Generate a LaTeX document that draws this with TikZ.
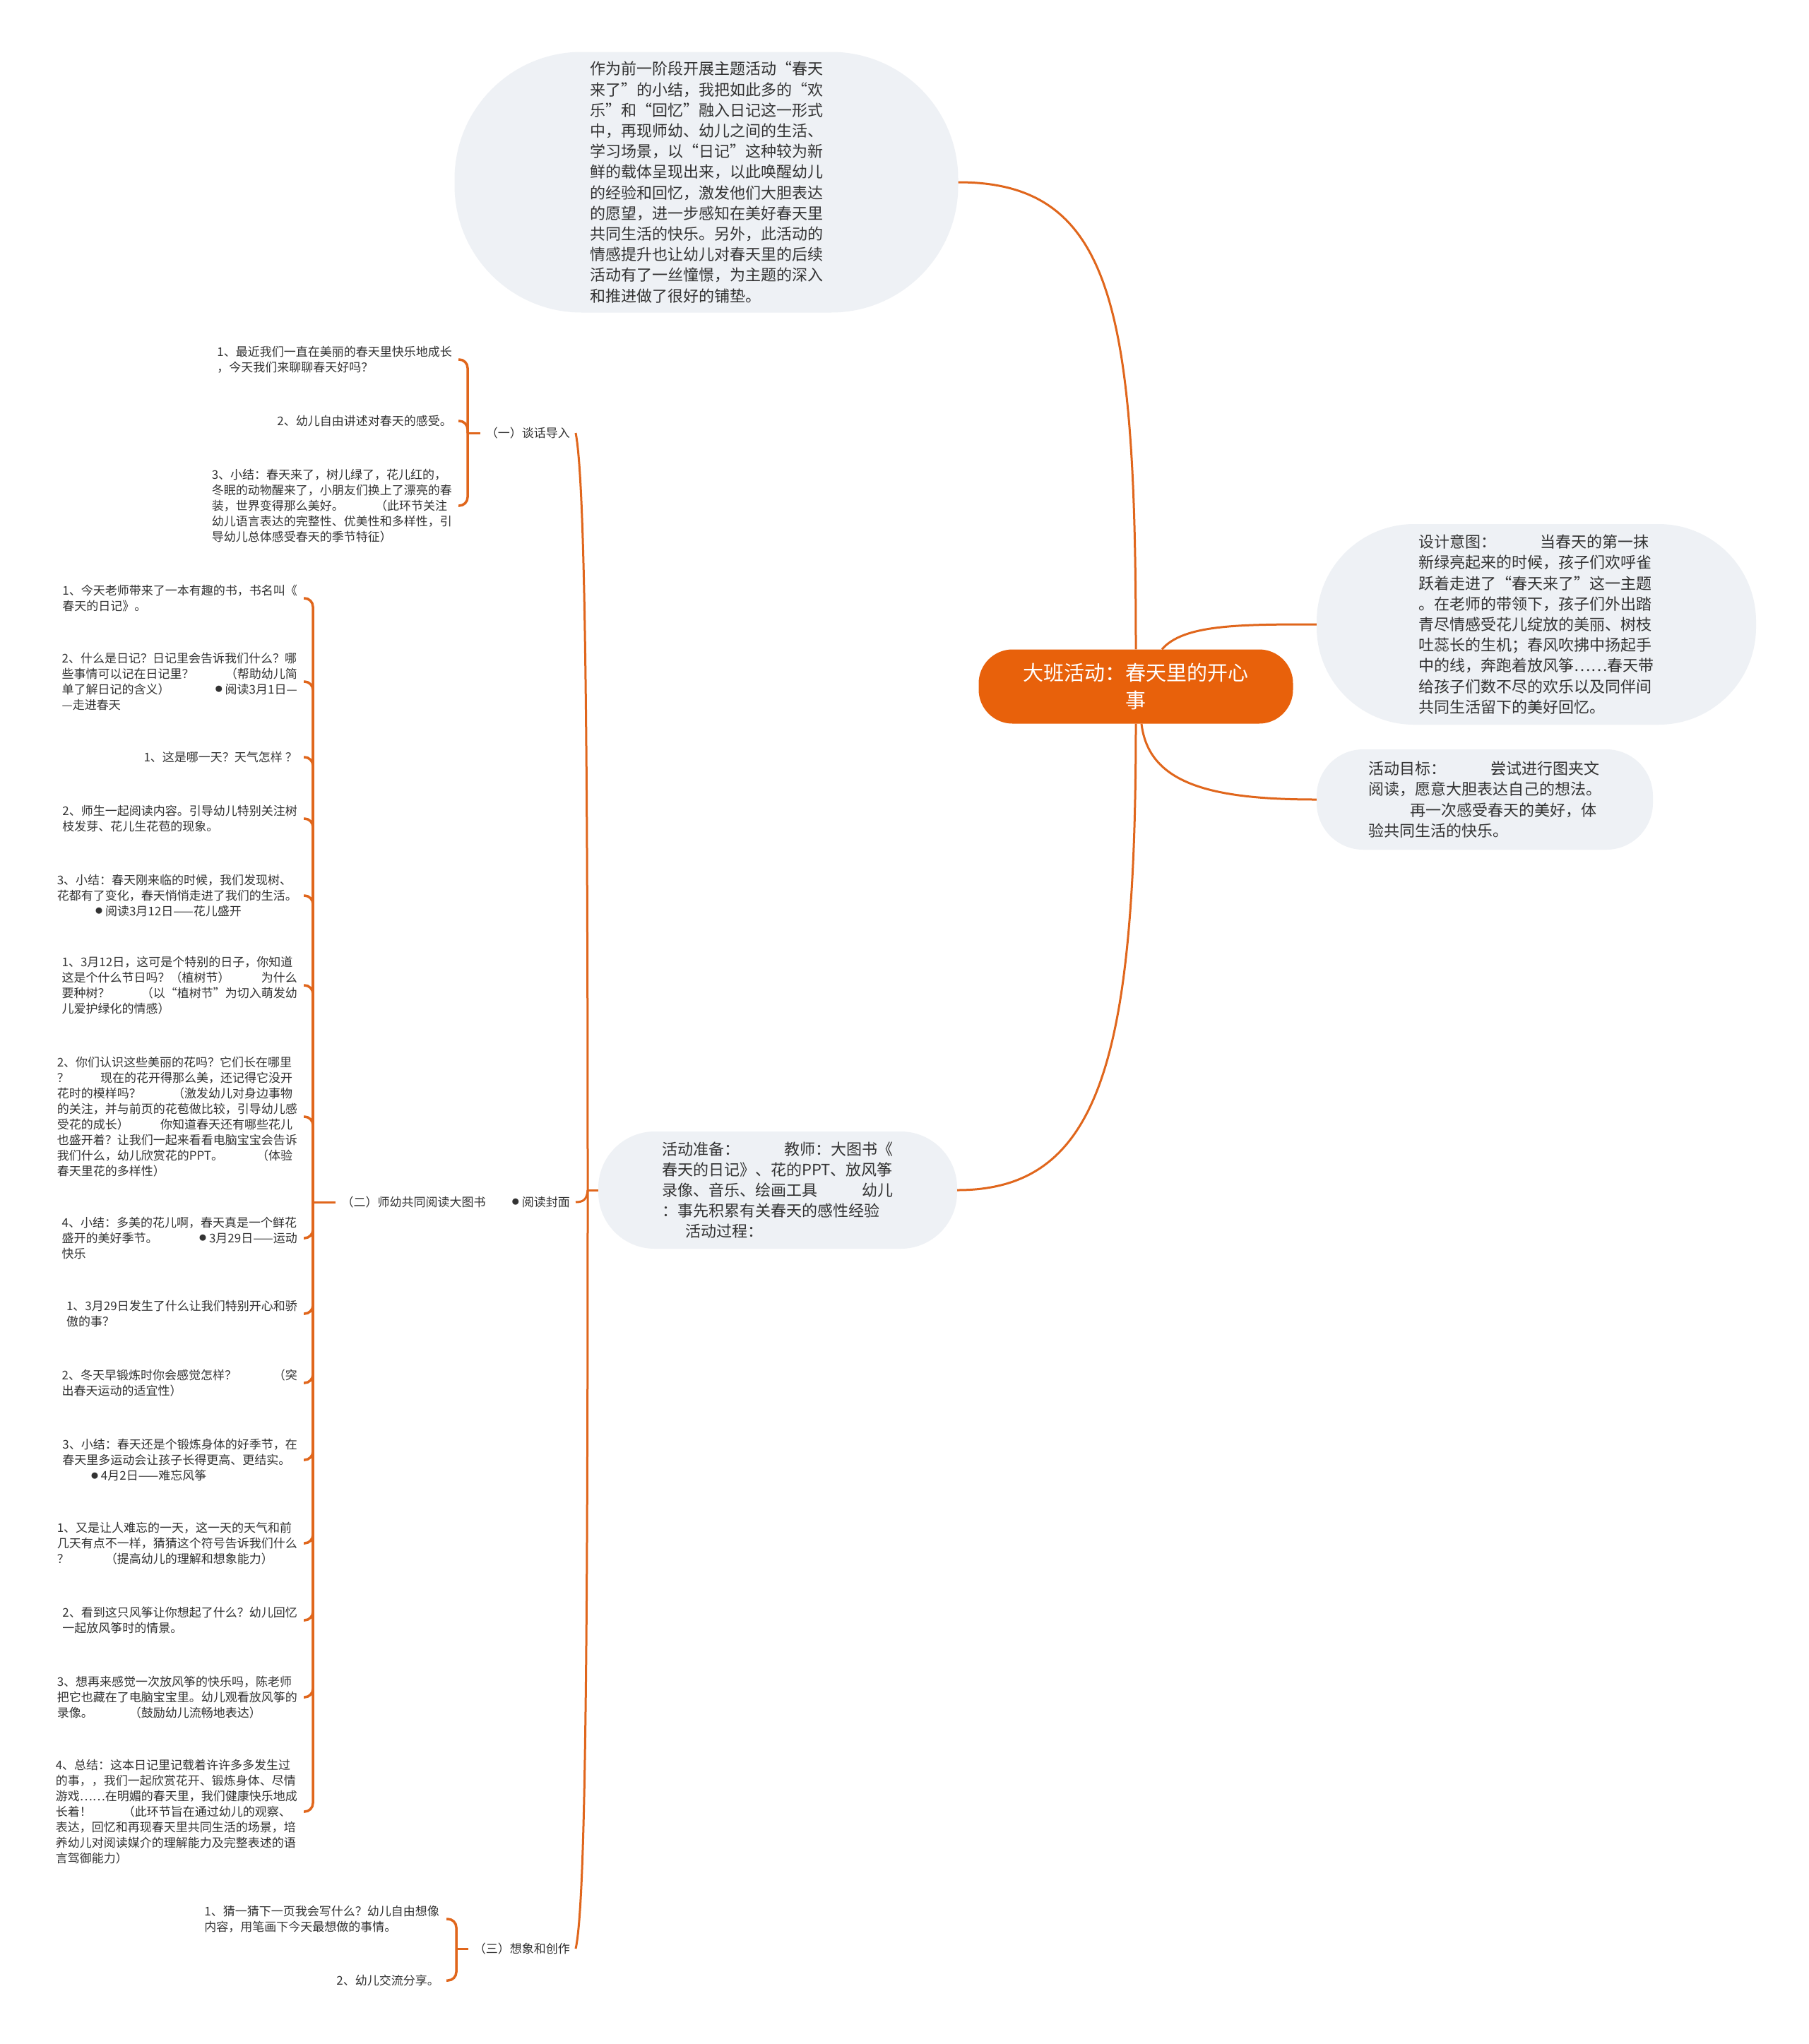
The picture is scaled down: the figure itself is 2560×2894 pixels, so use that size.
\documentclass[tikz,border=0pt]{standalone}
\usepackage{fontspec}
\setmainfont{Noto Sans CJK SC}
\definecolor{ln}{HTML}{E0661C}
\definecolor{rootc}{HTML}{E8610B}
\definecolor{bub}{HTML}{EEF1F5}
\definecolor{tx}{HTML}{333333}
\newcommand\gl[2]{\hbox to 19.6em{#1\hfill #2}}
\newcommand\bul{\raisebox{2.5pt}{\fontsize{10}{10}\selectfont ●}}
\begin{document}
\begin{tikzpicture}[x=1pt,y=-1pt,
  conn/.style={draw=ln, line width=3pt},
  brc/.style={draw=ln, line width=3.5pt, rounded corners=12pt},
  bubble/.style={fill=bub, text=tx, align=left, font=\fontsize{22}{29.2}\selectfont, inner sep=0pt},
  small/.style={text=tx, align=left, font=\fontsize{17}{22}\selectfont, inner sep=0pt, anchor=east},
  lab/.style={text=tx, font=\fontsize{17}{22}\selectfont, inner xsep=8pt, inner ysep=2pt, anchor=east},
]
\useasboundingbox[fill=white] (0,0) rectangle (2560,2894);

% ---------- main nodes ----------
\node[fill=rootc, text=white, rounded corners=48pt, minimum width=445pt, minimum height=105pt,
      align=center, font=\fontsize{29}{39}\selectfont, inner sep=0pt] (root) at (1608,972)
      {大班活动：春天里的开心\\事};

\node[bubble, rounded corners=180pt, minimum width=713pt, minimum height=369pt] (intro) at (1000,258)
{作为前一阶段开展主题活动“春天\\来了”的小结，我把如此多的“欢\\乐”和“回忆”融入日记这一形式\\中，再现师幼、幼儿之间的生活、\\学习场景，以“日记”这种较为新\\鲜的载体呈现出来，以此唤醒幼儿\\的经验和回忆，激发他们大胆表达\\的愿望，进一步感知在美好春天里\\共同生活的快乐。另外，此活动的\\情感提升也让幼儿对春天里的后续\\活动有了一丝憧憬，为主题的深入\\和推进做了很好的铺垫。};

\node[bubble, rounded corners=138pt, minimum width=622pt, minimum height=284pt] (design) at (2175,884)
{设计意图：\hspace{2.8em}当春天的第一抹\\新绿亮起来的时候，孩子们欢呼雀\\跃着走进了“春天来了”这一主题\\。在老师的带领下，孩子们外出踏\\青尽情感受花儿绽放的美丽、树枝\\吐蕊长的生机；春风吹拂中扬起手\\中的线，奔跑着放风筝……春天带\\给孩子们数不尽的欢乐以及同伴间\\共同生活留下的美好回忆。};

\node[bubble, rounded corners=66pt, minimum width=476pt, minimum height=142pt] (goal) at (2102,1132)
{活动目标：\hspace{2.9em}尝试进行图夹文\\阅读，愿意大胆表达自己的想法。\\\hspace*{2.7em}再一次感受春天的美好，体\\验共同生活的快乐。};

\node[bubble, rounded corners=80pt, minimum width=508pt, minimum height=166pt] (prep) at (1101,1685)
{活动准备：\hspace{2.9em}教师：大图书《\\春天的日记》、花的PPT、放风筝\\录像、音乐、绘画工具\hspace{2.9em}幼儿\\：事先积累有关春天的感性经验\\\hspace*{1.5em}活动过程：};

% ---------- root connectors ----------
\draw[conn] (root.north) .. controls +(0,-480) and +(220,0) .. (intro.east);
\draw[conn] ([xshift=37pt]root.north) .. controls +(30,-35) and +(-110,0) .. (design.west);
\draw[conn] ([xshift=8pt]root.south) .. controls +(10,85) and +(-150,0) .. (goal.west);
\draw[conn] (root.south) .. controls +(0,480) and +(200,0) .. (prep.east);

% ---------- section labels ----------
\node[lab] (t1) at (815,613) {（一）谈话导入};
\node[lab] (t2) at (815,1702) {（二）师幼共同阅读大图书\hspace{2.2em}\bul\ 阅读封面};
\node[lab] (t3) at (815,2759) {（三）想象和创作};

\coordinate (J) at (832,1685);
\draw[conn] (prep.west) -- (J);
\draw[conn] (J) .. controls (832,1000) and (828,680) .. (t1.east);
\draw[conn] (J) .. controls (832,2400) and (828,2700) .. (t3.east);
\draw[conn] (J) .. controls (831,1698) and (826,1702) .. (t2.east);

% ---------- group 1 ----------
\node[small] (a1) at (640,509) {1、最近我们一直在美丽的春天里快乐地成长\\，今天我们来聊聊春天好吗？};
\node[small] (a2) at (640,596) {2、幼儿自由讲述对春天的感受。};
\node[small] (a3) at (640,716) {3、小结：春天来了，树儿绿了，花儿红的，\\冬眠的动物醒来了，小朋友们换上了漂亮的春\\\gl{装，世界变得那么美好。}{（此环节关注}\\幼儿语言表达的完整性、优美性和多样性，引\\导幼儿总体感受春天的季节特征）};
\coordinate (k1) at (662,613);
\foreach \n in {a1,a2,a3}
  \draw[brc] ([xshift=9pt]\n.east) -- (\n.east -| k1) -- (k1);
\draw[conn] (k1) -- (t1.west);

% ---------- group 2 ----------
\node[small] (b1) at (421,847) {1、今天老师带来了一本有趣的书，书名叫《\\春天的日记》。};
\node[small] (b2) at (421,965) {2、什么是日记？日记里会告诉我们什么？哪\\\gl{些事情可以记在日记里？}{（帮助幼儿简}\\\gl{单了解日记的含义）}{\bul\ 阅读3月1日—}\\—走进春天};
\node[small] (b3) at (421,1072) {1、这是哪一天？天气怎样 ？};
\node[small] (b4) at (421,1159) {2、师生一起阅读内容。引导幼儿特别关注树\\枝发芽、花儿生花苞的现象。};
\node[small] (b5) at (421,1268) {3、小结：春天刚来临的时候，我们发现树、\\花都有了变化，春天悄悄走进了我们的生活。\\\hspace*{3.2em}\bul\ 阅读3月12日——花儿盛开};
\node[small] (b6) at (421,1395) {1、3月12日，这可是个特别的日子，你知道\\\gl{这是个什么节日吗？（植树节）}{为什么}\\\gl{要种树？}{（以“植树节”为切入萌发幼}\\儿爱护绿化的情感）};
\node[small] (b7) at (421,1581) {2、你们认识这些美丽的花吗？它们长在哪里\\\gl{？}{现在的花开得那么美，还记得它没开}\\\gl{花时的模样吗？}{（激发幼儿对身边事物}\\的关注，并与前页的花苞做比较，引导幼儿感\\\gl{受花的成长）}{你知道春天还有哪些花儿}\\也盛开着？让我们一起来看看电脑宝宝会告诉\\\gl{我们什么，幼儿欣赏花的PPT。}{（体验}\\春天里花的多样性）};
\node[small] (b8) at (421,1753) {4、小结：多美的花儿啊，春天真是一个鲜花\\\gl{盛开的美好季节。}{\bul\ 3月29日——运动}\\快乐};
\node[small] (b9) at (421,1860) {1、3月29日发生了什么让我们特别开心和骄\\傲的事？};
\node[small] (b10) at (421,1958) {\gl{2、冬天早锻炼时你会感觉怎样？}{（突}\\出春天运动的适宜性）};
\node[small] (b11) at (421,2067) {3、小结：春天还是个锻炼身体的好季节，在\\春天里多运动会让孩子长得更高、更结实。\\\hspace*{2.4em}\bul\ 4月2日——难忘风筝};
\node[small] (b12) at (421,2185) {1、又是让人难忘的一天，这一天的天气和前\\几天有点不一样，猜猜这个符号告诉我们什么\\？\hspace{3em}（提高幼儿的理解和想象能力）};
\node[small] (b13) at (421,2294) {2、看到这只风筝让你想起了什么？幼儿回忆\\一起放风筝时的情景。};
\node[small] (b14) at (421,2403) {3、想再来感觉一次放风筝的快乐吗，陈老师\\把它也藏在了电脑宝宝里。幼儿观看放风筝的\\录像。\hspace{3em}（鼓励幼儿流畅地表达）};
\node[small] (b15) at (421,2565) {4、总结：这本日记里记载着许许多多发生过\\的事，，我们一起欣赏花开、锻炼身体、尽情\\游戏……在明媚的春天里，我们健康快乐地成\\\gl{长着！}{（此环节旨在通过幼儿的观察、}\\表达，回忆和再现春天里共同生活的场景，培\\养幼儿对阅读媒介的理解能力及完整表述的语\\言驾御能力）};
\coordinate (k2) at (443,1702);
\foreach \n in {b1,b2,b3,b4,b5,b6,b7,b8,b9,b10,b11,b12,b13,b14,b15}
  \draw[brc] ([xshift=9pt]\n.east) -- (\n.east -| k2) -- (k2);
\draw[conn] (k2) -- (t2.west);

% ---------- group 3 ----------
\node[small] (c1) at (622,2717) {1、猜一猜下一页我会写什么？幼儿自由想像\\内容，用笔画下今天最想做的事情。};
\node[small] (c2) at (622,2804) {2、幼儿交流分享。};
\coordinate (k3) at (646,2759);
\foreach \n in {c1,c2}
  \draw[brc] ([xshift=10pt]\n.east) -- (\n.east -| k3) -- (k3);
\draw[conn] (k3) -- (t3.west);
\end{tikzpicture}
\end{document}
